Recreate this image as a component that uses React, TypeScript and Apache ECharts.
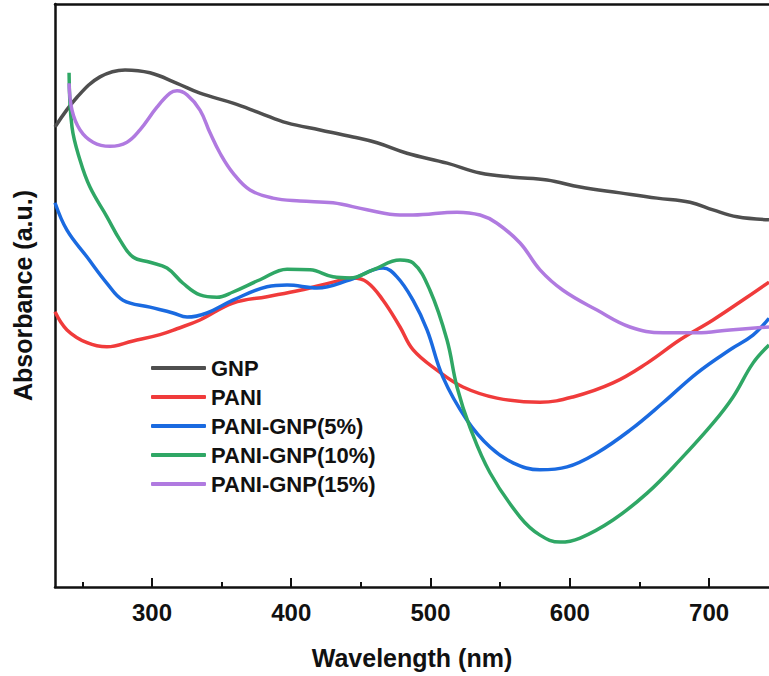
import React, { useEffect, useRef } from "react";
import * as echarts from "echarts";

const seriesNames = ["GNP", "PANI", "PANI-GNP(5%)", "PANI-GNP(10%)", "PANI-GNP(15%)"];
const seriesColors = ["#4f4f4f", "#f03b3b", "#1a6ae0", "#2fa765", "#b07ae0"];

const gnp: number[][] = [
  [230.4, 0.789], [246.2, 0.84], [262.7, 0.875], [280.7, 0.887], [298.6, 0.882], [318.0, 0.864],
  [334.5, 0.847], [358.2, 0.83], [377.6, 0.813], [397.0, 0.796], [420.7, 0.784], [444.4, 0.772],
  [461.6, 0.762], [483.1, 0.744], [511.9, 0.727], [535.6, 0.71], [559.2, 0.703], [583.7, 0.698],
  [607.4, 0.686], [636.1, 0.676], [662.6, 0.667], [686.3, 0.66], [702.8, 0.647], [720.1, 0.635],
  [743.0, 0.63],
];

const pani: number[][] = [
  [230.4, 0.472], [239.0, 0.441], [253.4, 0.419], [267.7, 0.412], [286.4, 0.422], [305.8, 0.433],
  [318.0, 0.443], [334.5, 0.458], [358.2, 0.487], [382.6, 0.498], [406.3, 0.509], [430.0, 0.523],
  [444.4, 0.53], [454.4, 0.523], [465.9, 0.492], [478.1, 0.446], [487.4, 0.407], [504.6, 0.372],
  [523.3, 0.343], [547.7, 0.324], [578.6, 0.317], [602.3, 0.326], [631.0, 0.35], [655.5, 0.384],
  [679.1, 0.424], [702.8, 0.458], [727.2, 0.497], [743.0, 0.523],
];

const gnp5: number[][] = [
  [230.4, 0.659], [239.0, 0.612], [253.4, 0.566], [267.7, 0.521], [279.2, 0.492], [298.6, 0.48],
  [315.1, 0.47], [325.2, 0.463], [339.5, 0.47], [358.2, 0.492], [382.6, 0.515], [397.0, 0.518],
  [418.5, 0.513], [442.2, 0.527], [465.9, 0.547], [475.9, 0.532], [487.4, 0.492], [497.5, 0.441],
  [508.9, 0.36], [526.2, 0.286], [542.7, 0.24], [559.2, 0.213], [578.6, 0.201], [598.0, 0.206],
  [619.5, 0.23], [643.2, 0.269], [666.9, 0.316], [691.3, 0.367], [715.0, 0.407], [731.5, 0.432],
  [743.0, 0.461],
];

const gnp10: number[][] = [
  [240.5, 0.882], [242.6, 0.789], [248.4, 0.732], [255.5, 0.686], [267.7, 0.635], [277.1, 0.595],
  [286.4, 0.566], [298.6, 0.557], [310.8, 0.547], [322.3, 0.521], [334.5, 0.501], [346.7, 0.497],
  [358.2, 0.506], [377.6, 0.527], [397.0, 0.545], [413.5, 0.544], [430.0, 0.532], [442.2, 0.53],
  [458.7, 0.544], [478.1, 0.561], [487.4, 0.556], [499.6, 0.509], [511.8, 0.424], [519.0, 0.343],
  [528.3, 0.274], [542.7, 0.196], [564.3, 0.12], [578.6, 0.089], [593.0, 0.077], [607.4, 0.084],
  [631.0, 0.115], [655.5, 0.161], [679.1, 0.218], [702.8, 0.281], [717.2, 0.326], [731.5, 0.384],
  [743.0, 0.415],
];

const gnp15: number[][] = [
  [240.5, 0.864], [242.6, 0.818], [248.4, 0.784], [257.7, 0.763], [269.9, 0.756], [282.1, 0.763],
  [291.4, 0.784], [303.6, 0.823], [313.0, 0.847], [318.0, 0.851], [325.2, 0.844], [334.5, 0.818],
  [341.7, 0.779], [348.9, 0.744], [358.2, 0.71], [370.4, 0.681], [386.9, 0.667], [406.3, 0.662],
  [430.0, 0.659], [454.4, 0.647], [478.1, 0.638], [487.4, 0.638], [519.0, 0.643], [535.6, 0.638],
  [547.7, 0.624], [564.3, 0.59], [578.6, 0.544], [595.1, 0.509], [619.5, 0.475], [643.2, 0.446],
  [666.9, 0.436], [691.3, 0.436], [715.0, 0.441], [743.0, 0.446],
];

const allData = [gnp, pani, gnp5, gnp10, gnp15];
const majorTicks = [300, 400, 500, 600, 700];
const minorTicks = [250, 350, 450, 550, 650];
const xMin = 230.4;
const xMax = 743;

export default function App() {
  const ref = useRef<HTMLDivElement>(null);
  useEffect(() => {
    document.body.style.margin = "0";
    const chart = echarts.init(ref.current!, null, { renderer: "svg" });
    const font = "'Liberation Sans', Arial, sans-serif";
    chart.setOption({
      animation: false,
      backgroundColor: "#ffffff",
      grid: { left: 55, right: 0, top: 4, bottom: 89, outerBoundsMode: "none", containLabel: false },
      legend: {
        orient: "vertical",
        left: 146,
        top: 352,
        itemWidth: 55,
        itemHeight: 4,
        itemGap: 7,
        icon: "roundRect",
        data: seriesNames,
        textStyle: { fontFamily: font, fontWeight: "bold", fontSize: 22, color: "#111", lineHeight: 22 },
      },
      xAxis: [
        {
          type: "value",
          position: "bottom",
          min: xMin,
          max: xMax,
          name: "Wavelength (nm)",
          nameLocation: "middle",
          nameGap: 58,
          nameTextStyle: { fontFamily: font, fontWeight: "bold", fontSize: 25, color: "#111" },
          axisLine: { lineStyle: { color: "#111", width: 2.5 } },
          axisTick: {
            inside: true,
            length: 9,
            customValues: majorTicks,
            lineStyle: { color: "#111", width: 2 },
          },
          axisLabel: {
            fontFamily: font,
            fontWeight: "bold",
            fontSize: 24,
            color: "#111",
            margin: 13,
            customValues: majorTicks,
          },
          splitLine: { show: false },
        },
        {
          type: "value",
          position: "bottom",
          min: xMin,
          max: xMax,
          axisLine: { show: false },
          axisTick: {
            inside: true,
            length: 5,
            customValues: minorTicks,
            lineStyle: { color: "#111", width: 2 },
          },
          axisLabel: { show: false },
          splitLine: { show: false },
        },
        {
          type: "value",
          position: "top",
          min: xMin,
          max: xMax,
          axisLine: { show: true, lineStyle: { color: "#111", width: 2.5 } },
          axisTick: { show: false },
          axisLabel: { show: false },
          splitLine: { show: false },
        },
      ],
      yAxis: {
        type: "value",
        min: 0,
        max: 1,
        name: "Absorbance (a.u.)",
        nameLocation: "middle",
        nameGap: 20,
        nameTextStyle: { fontFamily: font, fontWeight: "bold", fontSize: 25, color: "#111" },
        axisLine: { show: true, lineStyle: { color: "#111", width: 2.5 } },
        axisTick: { show: false },
        axisLabel: { show: false },
        splitLine: { show: false },
      },
      series: seriesNames.map((name, i) => ({
        name,
        type: "line",
        data: allData[i],
        smooth: 0.4,
        showSymbol: false,
        xAxisIndex: 0,
        color: seriesColors[i],
        lineStyle: { width: 3.5, color: seriesColors[i] },
      })),
    });
    return () => chart.dispose();
  }, []);
  return <div ref={ref} style={{ width: 769, height: 676 }} />;
}
